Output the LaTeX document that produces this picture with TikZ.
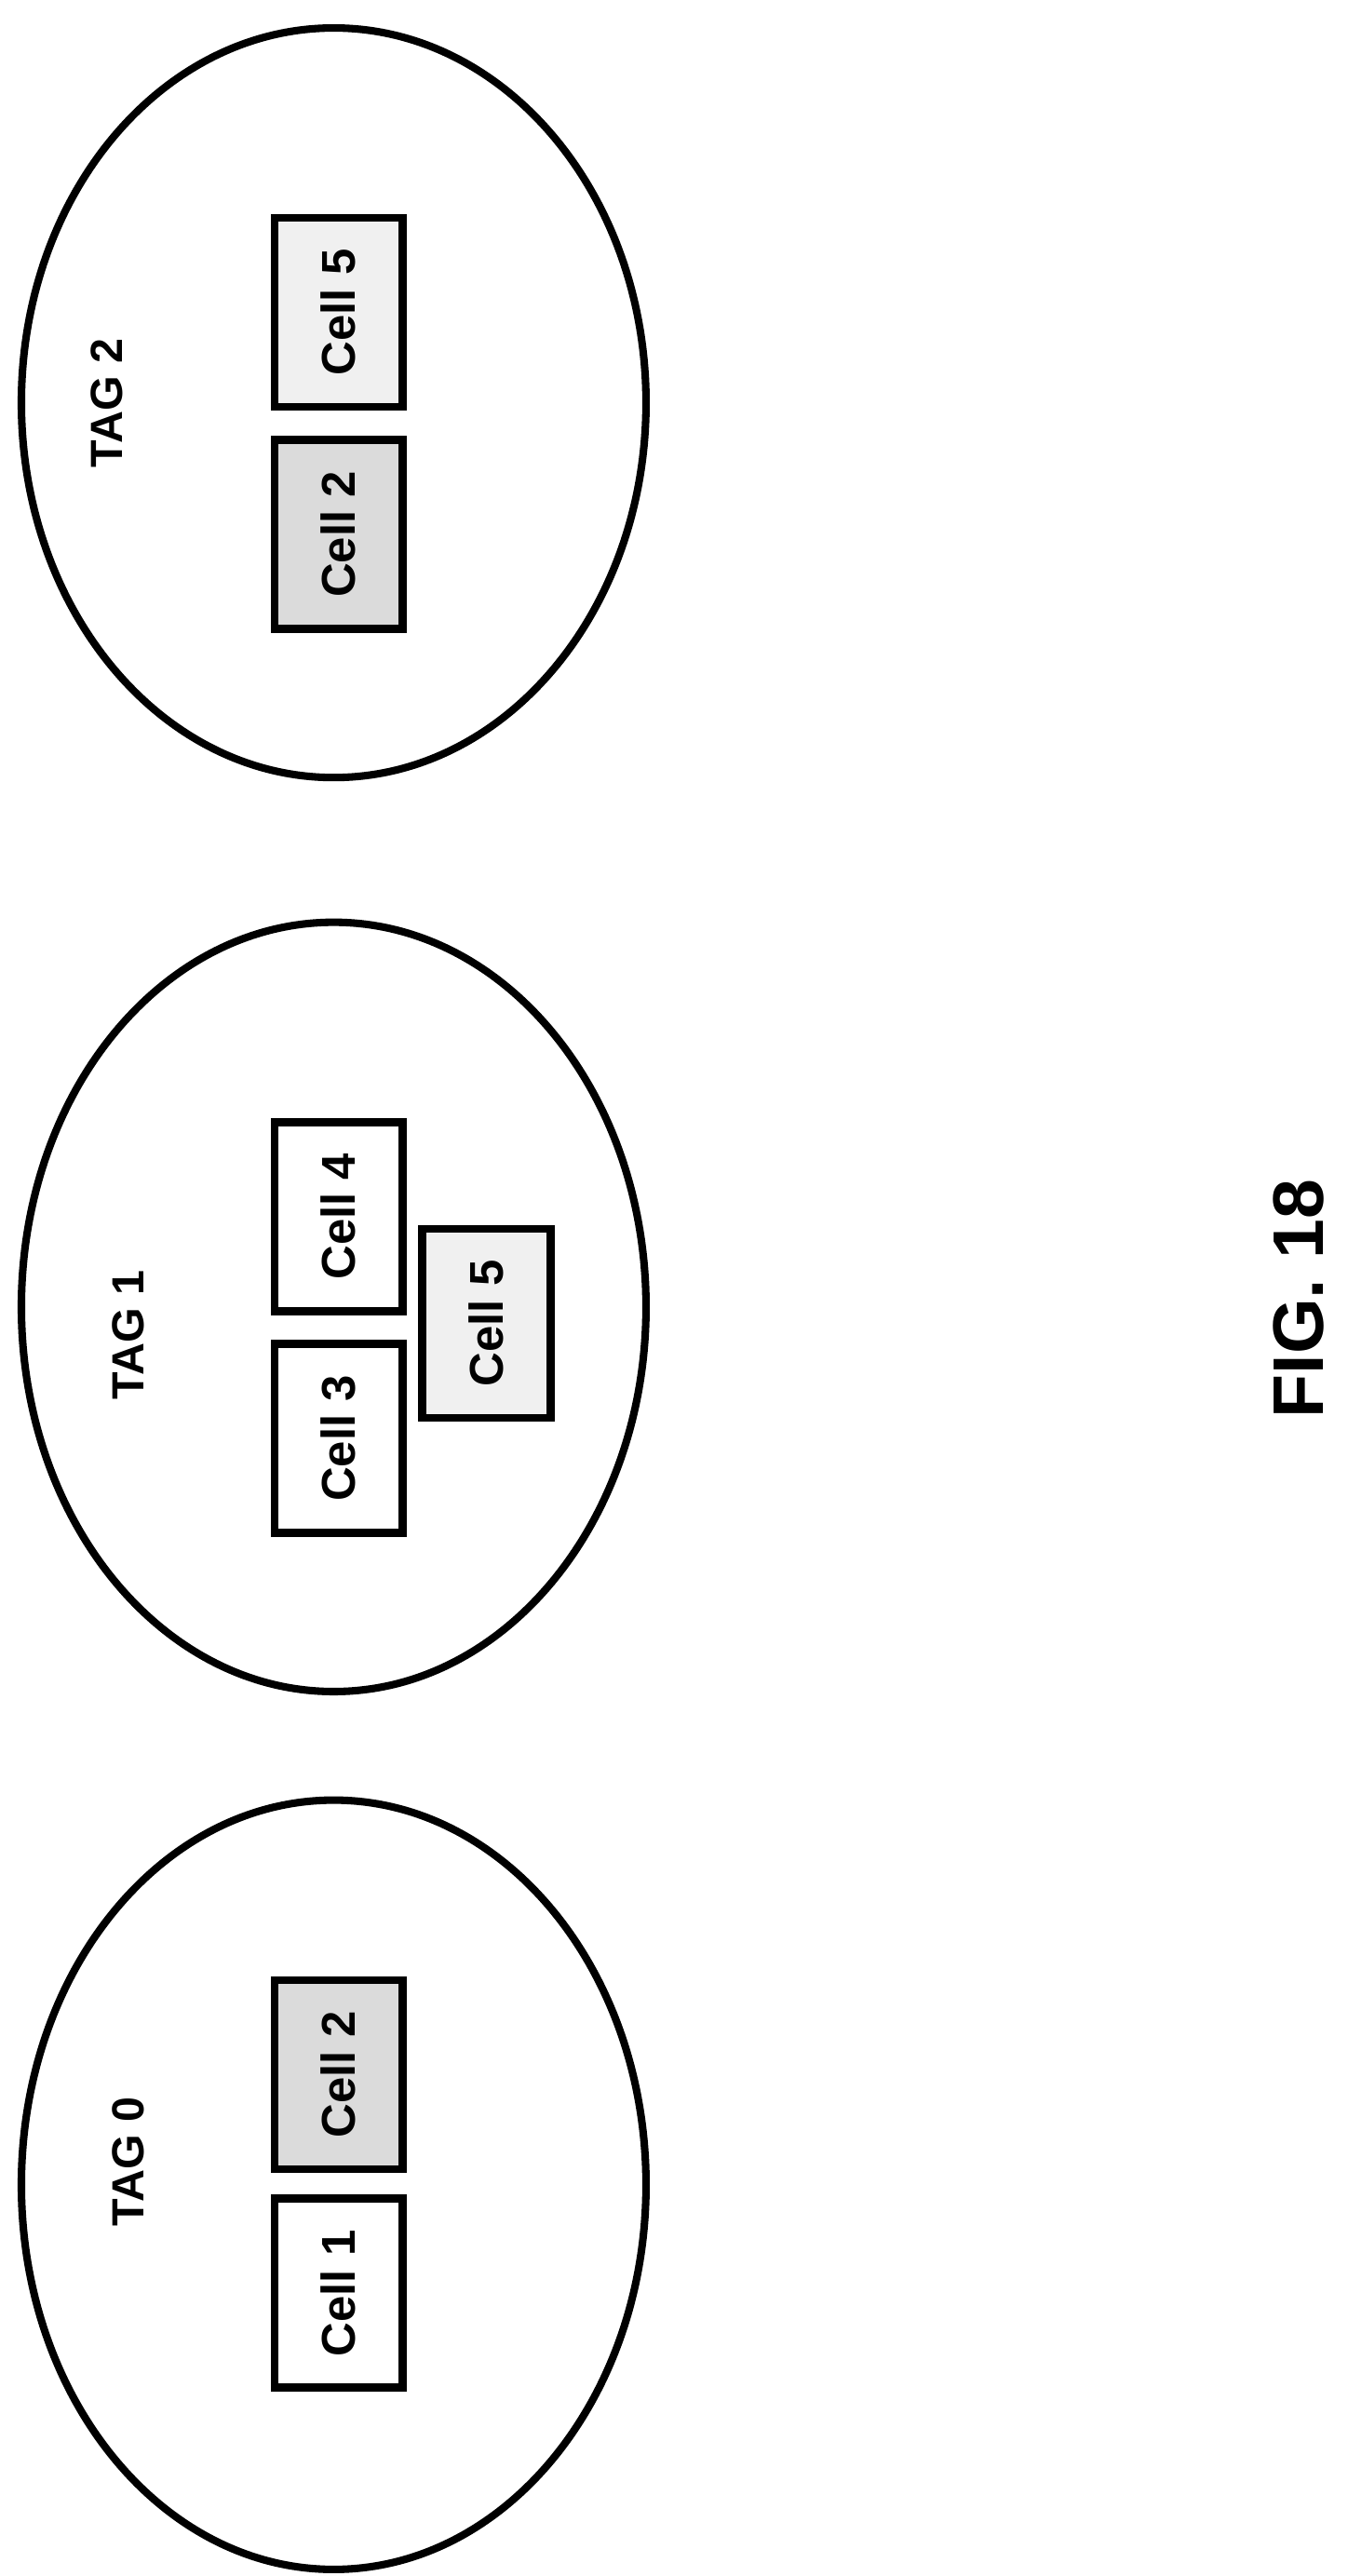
\documentclass[tikz,border=0pt]{standalone}
\usepackage{fontspec}
\setmainfont{Liberation Sans}
\usetikzlibrary{shapes.geometric,patterns}

\begin{document}
\begin{tikzpicture}
	 [x=0.05cm,y=-0.05cm,
	  tag/.style={ellipse,draw,line width=6.5pt,minimum width=19cm,minimum height=23.4cm,inner sep=0pt},
	  cell/.style={draw,line width=7pt,minimum width=3.9cm,minimum height=5.75cm,inner sep=0pt,font=\fontsize{41}{44}\selectfont\bfseries},
	  dark/.style={fill=black!14},
	  light/.style={fill=black!6},
	  lbl/.style={rotate=90,font=\fontsize{39}{42}\selectfont\bfseries}]

	\useasboundingbox (0,0) rectangle (820,1567);

	  \node (t2) [tag,minimum height=22.8cm] at (203,245) {};
	  \node (t1) [tag] at (203,795) {};
	  \node (t0) [tag] at (203,1329) {};

	  \node (l2) [lbl] at (65,245) {TAG 2};
	  \node (l1) [lbl] at (78,812) {TAG 1};
	  \node (l0) [lbl] at (78,1315) {TAG 0};

	  \node (c25) [cell,light] at (206,190) {\rotatebox{90}{Cell 5}};
	  \node (c22) [cell,dark] at (206,325) {\rotatebox{90}{Cell 2}};

	  \node (c14) [cell] at (206,740) {\rotatebox{90}{Cell 4}};
	  \node (c13) [cell] at (206,875) {\rotatebox{90}{Cell 3}};
	  \node (c15) [cell,light] at (296,805) {\rotatebox{90}{Cell 5}};

	  \node (c02) [cell,dark] at (206,1262) {\rotatebox{90}{Cell 2}};
	  \node (c01) [cell] at (206,1395) {\rotatebox{90}{Cell 1}};

	  \node (fig) [rotate=90,font=\fontsize{62}{66}\selectfont\bfseries] at (790,790) {FIG. 18};

\end{tikzpicture}
\end{document}
